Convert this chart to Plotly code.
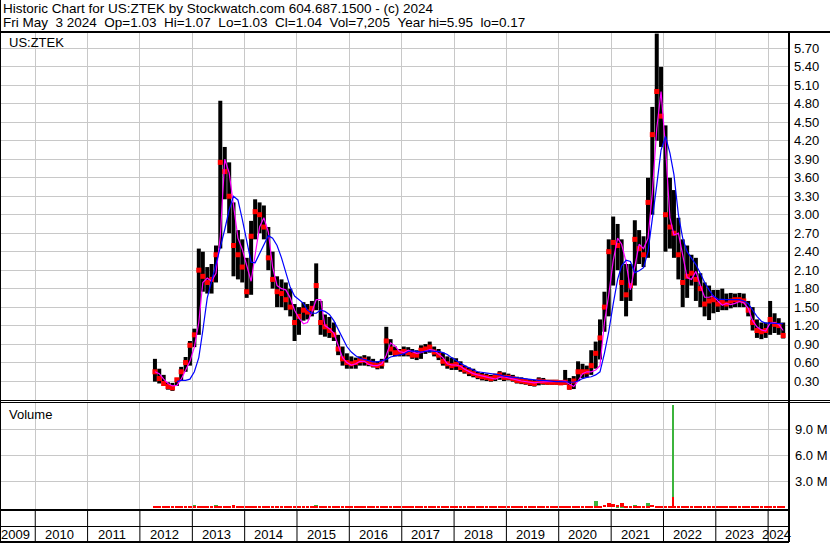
import pandas as pd
import plotly.graph_objects as go

# ---------------- data (monthly) ----------------
# Apr 2012 .. Apr 2024
high_by_year = [
    [0.66, 0.50, 0.40, 0.28, 0.27, 0.35, 0.53, 0.69, 0.95],                      # 2012 Apr-Dec
    [1.15, 2.45, 2.40, 2.15, 2.20, 2.50, 4.85, 4.10, 3.85, 3.20, 2.75, 2.60],   # 2013
    [2.30, 2.90, 3.25, 3.20, 3.15, 2.80, 2.40, 2.00, 1.95, 1.90, 1.80, 1.55],   # 2014
    [1.50, 1.58, 1.55, 1.60, 2.21, 1.60, 1.38, 1.34, 1.25, 1.05, 0.86, 0.75],   # 2015
    [0.70, 0.68, 0.70, 0.72, 0.70, 0.66, 0.62, 0.66, 1.18, 0.98, 0.86, 0.82],   # 2016
    [0.86, 0.85, 0.82, 0.80, 0.88, 0.90, 0.94, 0.86, 0.82, 0.76, 0.70, 0.68],   # 2017
    [0.67, 0.62, 0.55, 0.52, 0.50, 0.45, 0.43, 0.42, 0.40, 0.42, 0.46, 0.44],   # 2018
    [0.42, 0.40, 0.37, 0.36, 0.34, 0.33, 0.32, 0.36, 0.35, 0.32, 0.32, 0.32],   # 2019
    [0.31, 0.48, 0.35, 0.38, 0.62, 0.58, 0.55, 0.80, 0.94, 1.30, 1.75, 2.60],   # 2020
    [2.97, 2.85, 2.60, 2.20, 2.20, 2.91, 2.75, 2.65, 3.60, 4.75, 5.94, 5.40],   # 2021
    [4.45, 3.60, 3.40, 2.95, 2.60, 2.50, 2.35, 2.30, 2.05, 1.90, 1.85, 1.78],   # 2022
    [1.78, 1.80, 1.72, 1.73, 1.72, 1.73, 1.72, 1.60, 1.50, 1.30, 1.25, 1.25],   # 2023
    [1.60, 1.40, 1.32, 1.25],                                                   # 2024 Jan-Apr
]
low_by_year = [
    [0.29, 0.26, 0.22, 0.16, 0.14, 0.22, 0.30, 0.45, 0.55],
    [0.85, 1.05, 1.75, 1.72, 1.72, 1.90, 2.45, 3.25, 2.70, 2.00, 1.95, 1.90],
    [1.65, 1.70, 2.60, 2.70, 2.60, 2.10, 1.80, 1.50, 1.50, 1.45, 1.35, 0.95],
    [1.05, 1.28, 1.30, 1.35, 1.45, 1.05, 1.02, 1.00, 0.95, 0.72, 0.55, 0.50],
    [0.50, 0.50, 0.55, 0.55, 0.54, 0.52, 0.49, 0.50, 0.60, 0.72, 0.70, 0.70],
    [0.70, 0.70, 0.66, 0.64, 0.66, 0.74, 0.76, 0.70, 0.64, 0.55, 0.50, 0.48],
    [0.48, 0.45, 0.42, 0.38, 0.36, 0.33, 0.31, 0.30, 0.29, 0.30, 0.32, 0.30],
    [0.31, 0.29, 0.26, 0.25, 0.24, 0.22, 0.21, 0.23, 0.24, 0.24, 0.24, 0.24],
    [0.24, 0.24, 0.16, 0.17, 0.30, 0.35, 0.36, 0.40, 0.50, 0.65, 1.10, 1.35],
    [1.85, 2.10, 1.60, 1.35, 1.60, 1.85, 2.20, 2.15, 2.30, 3.00, 4.20, 4.10],
    [2.40, 2.45, 2.30, 1.95, 1.50, 1.65, 1.85, 1.60, 1.50, 1.35, 1.29, 1.40],
    [1.42, 1.45, 1.45, 1.48, 1.50, 1.50, 1.50, 1.35, 1.12, 1.00, 0.98, 1.00],
    [1.05, 1.08, 1.05, 0.99],
]
close_by_year = [
    [0.45, 0.34, 0.26, 0.21, 0.19, 0.32, 0.45, 0.60, 0.88],
    [1.05, 2.10, 2.00, 1.90, 1.95, 2.35, 3.85, 3.70, 3.30, 2.50, 2.35, 2.15],
    [1.75, 2.65, 3.05, 3.00, 2.80, 2.30, 1.95, 1.75, 1.72, 1.62, 1.50, 1.25],
    [1.35, 1.45, 1.42, 1.48, 1.85, 1.25, 1.18, 1.12, 1.05, 0.82, 0.66, 0.60],
    [0.58, 0.60, 0.63, 0.64, 0.60, 0.57, 0.55, 0.58, 0.95, 0.82, 0.76, 0.76],
    [0.78, 0.76, 0.72, 0.72, 0.80, 0.82, 0.85, 0.77, 0.72, 0.62, 0.58, 0.55],
    [0.57, 0.52, 0.48, 0.45, 0.42, 0.39, 0.37, 0.36, 0.34, 0.37, 0.40, 0.36],
    [0.36, 0.34, 0.31, 0.30, 0.29, 0.27, 0.26, 0.30, 0.29, 0.28, 0.28, 0.28],
    [0.27, 0.28, 0.20, 0.30, 0.45, 0.45, 0.45, 0.55, 0.75, 1.00, 1.50, 2.40],
    [2.55, 2.50, 1.90, 1.70, 1.85, 2.60, 2.45, 2.35, 3.20, 4.30, 5.00, 4.60],
    [3.00, 2.80, 2.70, 2.35, 1.90, 2.00, 2.05, 1.95, 1.80, 1.55, 1.60, 1.62],
    [1.55, 1.58, 1.55, 1.60, 1.62, 1.62, 1.60, 1.45, 1.25, 1.12, 1.10, 1.12],
    [1.30, 1.22, 1.20, 1.04],
]
ma_fast_by_year = [
    [0.45, 0.42, 0.33, 0.26, 0.22, 0.23, 0.33, 0.48, 0.62],
    [0.85, 1.25, 1.90, 1.97, 1.92, 2.05, 2.65, 3.90, 3.68, 3.20, 2.62, 2.44],
    [2.20, 1.92, 2.35, 2.80, 2.95, 2.72, 2.15, 1.85, 1.80, 1.78, 1.65, 1.45],
    [1.32, 1.23, 1.25, 1.42, 1.62, 1.62, 1.20, 1.15, 1.08, 0.88, 0.68, 0.60],
    [0.56, 0.58, 0.62, 0.62, 0.57, 0.55, 0.55, 0.58, 0.72, 0.92, 0.87, 0.78],
    [0.76, 0.80, 0.78, 0.75, 0.76, 0.79, 0.81, 0.80, 0.74, 0.68, 0.58, 0.56],
    [0.56, 0.54, 0.49, 0.45, 0.42, 0.40, 0.38, 0.37, 0.35, 0.33, 0.36, 0.37],
    [0.35, 0.34, 0.32, 0.30, 0.29, 0.28, 0.27, 0.28, 0.29, 0.29, 0.29, 0.29],
    [0.29, 0.30, 0.25, 0.21, 0.30, 0.42, 0.45, 0.45, 0.48, 0.55, 1.25, 1.70],
    [2.25, 2.62, 2.52, 2.23, 1.78, 2.15, 2.52, 2.45, 2.62, 3.35, 4.40, 5.00],
    [4.10, 2.95, 2.67, 2.70, 2.35, 1.98, 1.95, 2.08, 1.85, 1.66, 1.66, 1.68],
    [1.60, 1.53, 1.56, 1.54, 1.56, 1.59, 1.57, 1.48, 1.28, 1.18, 1.13, 1.11],
    [1.24, 1.25, 1.22, 1.12],
]
ma_slow_by_year = [
    [None, None, None, None, None, 0.29, 0.31, 0.31, 0.33],
    [0.45, 0.68, 1.12, 1.65, 1.92, 2.18, 2.47, 2.76, 3.08, 3.30, 3.24, 2.93],
    [2.55, 2.23, 2.22, 2.36, 2.52, 2.66, 2.62, 2.50, 2.30, 2.05, 1.82, 1.68],
    [1.62, 1.56, 1.45, 1.40, 1.40, 1.45, 1.43, 1.38, 1.28, 1.15, 1.00, 0.86],
    [0.77, 0.71, 0.67, 0.65, 0.63, 0.61, 0.61, 0.63, 0.65, 0.69, 0.71, 0.72],
    [0.74, 0.78, 0.79, 0.78, 0.77, 0.78, 0.79, 0.78, 0.78, 0.76, 0.73, 0.68],
    [0.63, 0.59, 0.55, 0.51, 0.48, 0.45, 0.44, 0.43, 0.43, 0.41, 0.40, 0.38],
    [0.37, 0.36, 0.35, 0.34, 0.33, 0.32, 0.32, 0.31, 0.31, 0.30, 0.30, 0.29],
    [0.29, 0.29, 0.28, 0.28, 0.30, 0.34, 0.36, 0.37, 0.40, 0.45, 0.75, 1.10],
    [1.55, 1.95, 2.17, 2.26, 2.24, 2.06, 2.09, 2.14, 2.40, 2.90, 3.48, 4.05],
    [4.27, 4.00, 3.65, 3.00, 2.62, 2.40, 2.30, 2.19, 2.05, 1.90, 1.78, 1.68],
    [1.63, 1.62, 1.62, 1.62, 1.62, 1.62, 1.60, 1.56, 1.45, 1.35, 1.27, 1.24],
    [1.24, 1.24, 1.24, 1.23],
]
# volume in millions of shares
vol_up_by_year = [
    [0.20, 0.06, 0.05, 0.04, 0.06, 0.08, 0.10, 0.12, 0.15],
    [0.25, 0.12, 0.08, 0.10, 0.08, 0.30, 0.15, 0.10, 0.08, 0.10, 0.12, 0.08],
    [0.08, 0.12, 0.10, 0.08, 0.08, 0.06, 0.06, 0.05, 0.06, 0.06, 0.05, 0.10],
    [0.08, 0.06, 0.06, 0.06, 0.22, 0.08, 0.06, 0.05, 0.05, 0.06, 0.05, 0.05],
    [0.05, 0.05, 0.06, 0.05, 0.05, 0.04, 0.04, 0.05, 0.20, 0.06, 0.05, 0.05],
    [0.05, 0.05, 0.05, 0.05, 0.06, 0.06, 0.08, 0.05, 0.05, 0.04, 0.04, 0.04],
    [0.04, 0.04, 0.04, 0.04, 0.04, 0.04, 0.03, 0.03, 0.03, 0.05, 0.05, 0.04],
    [0.04, 0.04, 0.03, 0.03, 0.03, 0.03, 0.03, 0.05, 0.04, 0.04, 0.04, 0.04],
    [0.04, 0.10, 0.05, 0.06, 0.12, 0.08, 0.08, 0.15, 0.70, 0.20, 0.30, 0.55],
    [0.30, 0.20, 0.15, 0.10, 0.12, 0.25, 0.12, 0.12, 0.55, 0.30, 0.20, 0.15],
    [0.15, 0.12, 0.12, 0.08, 0.08, 0.06, 0.06, 0.06, 0.06, 0.06, 0.06, 0.06],
    [0.05, 0.05, 0.05, 0.05, 0.05, 0.05, 0.05, 0.05, 0.12, 0.05, 0.05, 0.05],
    [0.10, 0.05, 0.05, 0.04],
]
vol_down_by_year = [
    [0.10, 0.10, 0.08, 0.08, 0.10, 0.06, 0.08, 0.10, 0.12],
    [0.15, 0.12, 0.10, 0.10, 0.12, 0.15, 0.15, 0.12, 0.14, 0.22, 0.12, 0.12],
    [0.10, 0.10, 0.12, 0.10, 0.10, 0.12, 0.10, 0.08, 0.08, 0.08, 0.08, 0.12],
    [0.12, 0.08, 0.08, 0.08, 0.12, 0.14, 0.10, 0.08, 0.08, 0.10, 0.08, 0.08],
    [0.08, 0.07, 0.07, 0.08, 0.07, 0.07, 0.06, 0.07, 0.10, 0.10, 0.08, 0.07],
    [0.07, 0.07, 0.08, 0.07, 0.07, 0.08, 0.08, 0.08, 0.08, 0.09, 0.08, 0.08],
    [0.08, 0.08, 0.08, 0.08, 0.07, 0.07, 0.07, 0.07, 0.07, 0.08, 0.08, 0.07],
    [0.07, 0.07, 0.07, 0.07, 0.07, 0.07, 0.07, 0.07, 0.07, 0.07, 0.07, 0.07],
    [0.07, 0.08, 0.12, 0.08, 0.10, 0.10, 0.08, 0.12, 0.15, 0.20, 0.25, 0.45],
    [0.35, 0.25, 0.45, 0.20, 0.15, 0.15, 0.15, 0.12, 0.20, 0.25, 0.20, 0.20],
    [0.20, 0.15, 0.20, 0.12, 0.12, 0.10, 0.10, 0.10, 0.10, 0.10, 0.10, 0.10],
    [0.09, 0.09, 0.09, 0.09, 0.09, 0.09, 0.09, 0.09, 0.10, 0.10, 0.09, 0.09],
    [0.10, 0.09, 0.09, 0.09],
]
spike_date = "2022-03-10"
spike_up = 11.8
spike_down = 1.2

years = list(range(2009, 2025))
year_labels = [str(y) for y in years]
price_ticks = [0.30, 0.60, 0.90, 1.20, 1.50, 1.80, 2.10, 2.40, 2.70, 3.00,
               3.30, 3.60, 3.90, 4.20, 4.50, 4.80, 5.10, 5.40, 5.70]
vol_ticks = [3.0, 6.0, 9.0]
vol_tick_text = ["3.0 M", "6.0 M", "9.0 M"]

header_title = "Historic Chart for US:ZTEK by Stockwatch.com 604.687.1500 - (c) 2024"
last_day = "Fri May  3 2024"
q_open, q_high, q_low, q_close, q_vol = "1.03", "1.07", "1.03", "1.04", "7,205"
year_hi, year_lo = "5.95", "0.17"
symbol = "US:ZTEK"

def flat(parts):
    return [v for p in parts for v in p]

price_high = flat(high_by_year)
price_low = flat(low_by_year)
price_close = flat(close_by_year)
ma_fast = flat(ma_fast_by_year)
ma_slow = flat(ma_slow_by_year)
vol_up = flat(vol_up_by_year)
vol_down = flat(vol_down_by_year)
n = len(price_close)
for arr in (price_high, price_low, ma_fast, ma_slow, vol_up, vol_down):
    assert len(arr) == n, len(arr)

months = pd.date_range("2012-04-01", periods=n, freq="MS") + pd.Timedelta(days=14)

# ---------------- geometry ----------------
W, H = 830, 543
ML, MR, MT, MB = 0, 41, 32, 33
PW, PH = W - ML - MR, H - MT - MB

def py(p):  # pixel row -> paper y
    return (H - MB - p) / PH

def px(p):  # pixel col -> paper x
    return (p - ML) / PW

x0 = pd.Timestamp("2009-04-30")
x1 = pd.Timestamp("2024-05-25 16:00")
FONT = "Liberation Sans, Arial, sans-serif"
GRID = "#c8c8c8"

fig = go.Figure()

# price bars (high-low)
bx, by = [], []
for d, h, l in zip(months, price_high, price_low):
    bx += [d, d, None]
    by += [l, h, None]
fig.add_trace(go.Scatter(x=bx, y=by, mode="lines", line=dict(color="black", width=4),
                         connectgaps=False, xaxis="x", yaxis="y", hoverinfo="skip"))
fig.add_trace(go.Scatter(x=months, y=price_close, mode="markers",
                         marker=dict(symbol="square", size=5, color="#ff0000", line=dict(width=0)),
                         xaxis="x", yaxis="y"))
fig.add_trace(go.Scatter(x=months, y=ma_fast, mode="lines",
                         line=dict(color="#ff00ff", width=1.2), xaxis="x", yaxis="y"))
fig.add_trace(go.Scatter(x=months, y=ma_slow, mode="lines",
                         line=dict(color="#0000ff", width=1.2), xaxis="x", yaxis="y"))

# volume
month_w = 26 * 86400000
fig.add_trace(go.Bar(x=months, y=vol_up, width=month_w, marker=dict(color="#3cb43c", line=dict(width=0)),
                     xaxis="x2", yaxis="y2"))
fig.add_trace(go.Bar(x=months, y=vol_down, width=month_w, marker=dict(color="#ff0000", line=dict(width=0)),
                     xaxis="x2", yaxis="y2"))
fig.add_trace(go.Bar(x=[spike_date], y=[spike_up], width=12 * 86400000,
                     marker=dict(color="#3cb43c", line=dict(width=0)), xaxis="x2", yaxis="y2"))
fig.add_trace(go.Bar(x=[spike_date], y=[spike_down], width=12 * 86400000,
                     marker=dict(color="#ff0000", line=dict(width=0)), xaxis="x2", yaxis="y2"))

xcommon = dict(type="date", range=[x0, x1], showgrid=True, gridcolor=GRID, gridwidth=1,
               tick0="2010-01-01", dtick="M12", showticklabels=False, ticks="",
               zeroline=False, showline=False)
tickfont = dict(family=FONT, size=13, color="black")
hfont = dict(family=FONT, size=13.5, color="black")

annotations = [
    dict(text=header_title, x=px(1), y=py(8), xref="paper", yref="paper",
         xanchor="left", yanchor="middle", showarrow=False, font=hfont),
    dict(text=(f"{last_day}  Op={q_open}  Hi={q_high}  Lo={q_low}  Cl={q_close}  "
               f"Vol={q_vol}  Year hi={year_hi}  lo={year_lo}").replace("  ", "\u00a0\u00a0"),
         x=px(1), y=py(23), xref="paper", yref="paper",
         xanchor="left", yanchor="middle", showarrow=False, font=hfont),
    dict(text=symbol, x=px(7), y=py(43), xref="paper", yref="paper", xanchor="left", yanchor="middle",
         showarrow=False, font=dict(family=FONT, size=13, color="black")),
    dict(text="Volume", x=px(7), y=py(414), xref="paper", yref="paper", xanchor="left", yanchor="middle",
         showarrow=False, font=dict(family=FONT, size=13, color="black")),
]
for y, lab in zip(years, year_labels):
    s = max(pd.Timestamp(f"{y}-01-01"), x0)
    e = min(pd.Timestamp(f"{y + 1}-01-01"), x1)
    mid = s + (e - s) / 2
    annotations.append(dict(text=lab, x=mid, y=py(534), xref="x", yref="paper", xanchor="center",
                            yanchor="middle", xshift=-2, showarrow=False,
                            font=dict(family=FONT, size=13, color="black")))

shapes = []
def hline(p, xa, xb, w):
    shapes.append(dict(type="line", xref="paper", yref="paper", x0=px(xa), x1=px(xb),
                       y0=py(p), y1=py(p), line=dict(color="black", width=w)))
hline(32, 0, W, 2)
hline(400.5, 0, W, 1)
hline(402.5, 0, W, 1)
hline(510, 0, PW, 2)
hline(526.5, 0, PW, 1)
hline(542, 0, PW, 2)
shapes.append(dict(type="line", xref="paper", yref="paper", x0=px(0), x1=px(0), y0=py(543), y1=py(0),
                   line=dict(color="black", width=2)))
shapes.append(dict(type="line", xref="paper", yref="paper", x0=1, x1=1, y0=py(542), y1=py(32),
                   line=dict(color="black", width=2)))
for y in years[1:]:
    shapes.append(dict(type="line", xref="x", yref="paper", x0=f"{y}-01-01", x1=f"{y}-01-01",
                       y0=py(542), y1=py(510), line=dict(color="black", width=1)))

fig.update_layout(
    width=W, height=H, margin=dict(l=ML, r=MR, t=MT, b=MB, pad=0),
    paper_bgcolor="white", plot_bgcolor="white", showlegend=False, barmode="overlay",
    bargap=0,
    xaxis=dict(domain=[0, 1], anchor="y", **xcommon),
    xaxis2=dict(domain=[0, 1], anchor="y2", matches="x", **xcommon),
    yaxis=dict(domain=[py(400), 1], anchor="x", side="right", range=[-0.008, 5.966],
               tickvals=price_ticks, ticktext=[f"{v:.2f}" for v in price_ticks],
               showgrid=True, gridcolor=GRID, gridwidth=1, zeroline=False, showline=False,
               ticks="", ticklabelstandoff=4, tickfont=tickfont),
    yaxis2=dict(domain=[0, py(402)], anchor="x2", side="right", range=[-0.3, 12.1],
                tickvals=vol_ticks, ticktext=vol_tick_text,
                showgrid=True, gridcolor=GRID, gridwidth=1, zeroline=False, showline=False,
                ticks="", ticklabelstandoff=5, tickfont=tickfont),
    annotations=annotations,
    shapes=shapes,
    hovermode=False,
)

fig.write_html("out.html",
               config={"displayModeBar": False},
               post_script="document.body.style.margin='0';document.body.style.padding='0';"
                           "document.documentElement.style.overflow='hidden';")
